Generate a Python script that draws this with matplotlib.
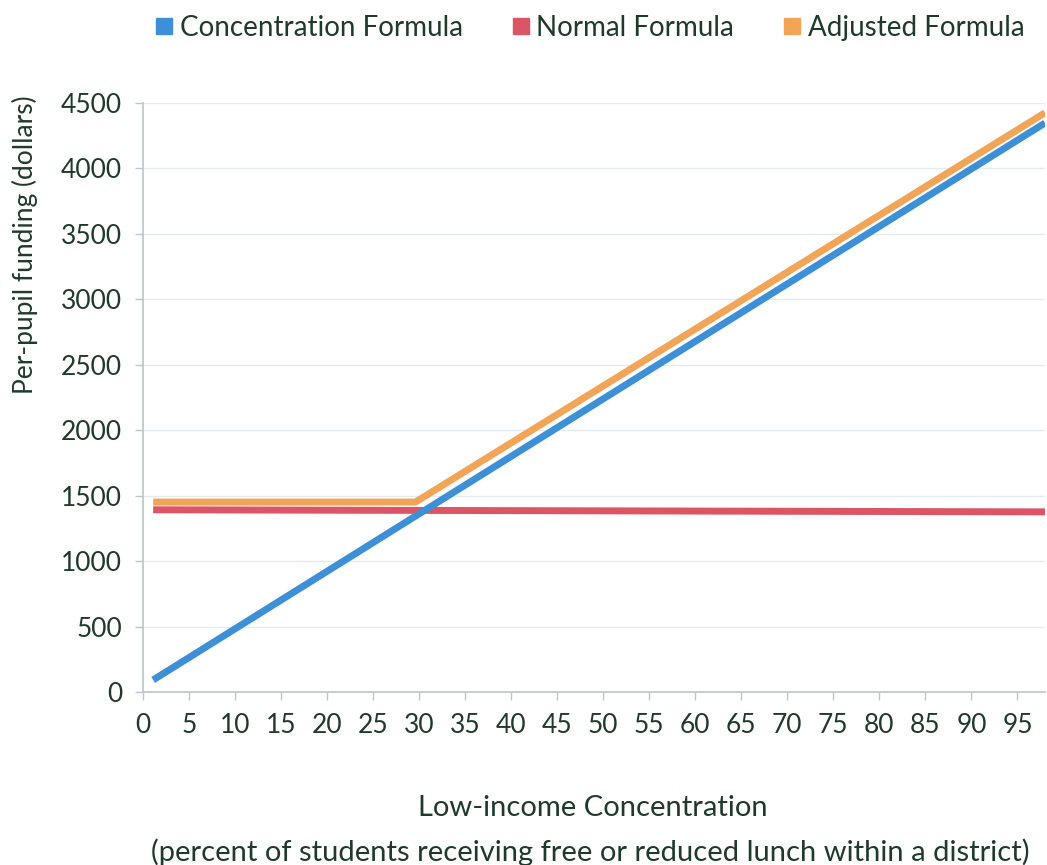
import matplotlib
matplotlib.use("Agg")
import matplotlib.pyplot as plt
from matplotlib.lines import Line2D

plt.rcParams['font.family'] = ['Lato', 'DejaVu Sans']

# Funding per pupil vs. low-income share (straight segments, read at the ends/kink)
conc_x = [1.1, 98]
conc_y = [92, 4347]

normal_x = [1.1, 98]
normal_y = [1392, 1376]

adj_x = [1.1, 29.6, 98]
adj_y = [1451, 1451, 4425]

series_names = ["Concentration Formula", "Normal Formula", "Adjusted Formula"]
series_colors = ["#3d8fd8", "#dc5564", "#f2a457"]

x_ticks = list(range(0, 100, 5))
y_ticks = list(range(0, 5000, 500))

text_col = "#1f3a2c"
axis_col = "#b9c6cb"

fig = plt.figure(figsize=(10.47, 8.65), dpi=100)
ax = fig.add_axes([0.1366, 0.2, 0.8615, 0.681])

ax.plot(conc_x, conc_y, color=series_colors[0], lw=5, solid_capstyle='butt', zorder=3)
ax.plot(normal_x, normal_y, color=series_colors[1], lw=5, solid_capstyle='butt', zorder=2)
ax.plot(adj_x, adj_y, color=series_colors[2], lw=5, solid_capstyle='butt',
        solid_joinstyle='miter', zorder=2)

ax.set_xlim(0, 98)
ax.set_ylim(0, 4500)
ax.set_xticks(x_ticks)
ax.set_yticks(y_ticks)
ax.tick_params(axis='both', colors=axis_col, labelcolor=text_col, labelsize=19,
               length=6, width=1, direction='out')
ax.tick_params(axis='x', pad=9)
ax.tick_params(axis='y', pad=9)

ax.grid(axis='y', color='#e3ecef', lw=1)
ax.set_axisbelow(True)
for side in ['top', 'right']:
    ax.spines[side].set_visible(False)
for side in ['left', 'bottom']:
    ax.spines[side].set_color(axis_col)
    ax.spines[side].set_linewidth(1.2)

fig.text(0.024, 0.717, "Per-pupil funding (dollars)", rotation=90, ha='center',
         va='center', fontsize=19, color=text_col)
fig.text(0.566, 0.066, "Low-income Concentration", ha='center', va='center',
         fontsize=21, color=text_col)
fig.text(0.564, 0.015, "(percent of students receiving free or reduced lunch within a district)",
         ha='center', va='center', fontsize=21, color=text_col)

handles = [Line2D([], [], marker='s', ls='none', markersize=12, color=c) for c in series_colors]
fig.legend(handles, series_names, loc='center', bbox_to_anchor=(0.561, 0.968), ncol=3,
           frameon=False, fontsize=20, labelcolor=text_col, handletextpad=0.05,
           columnspacing=1.6, handlelength=1.0)

fig.savefig("out.png", dpi=100)
